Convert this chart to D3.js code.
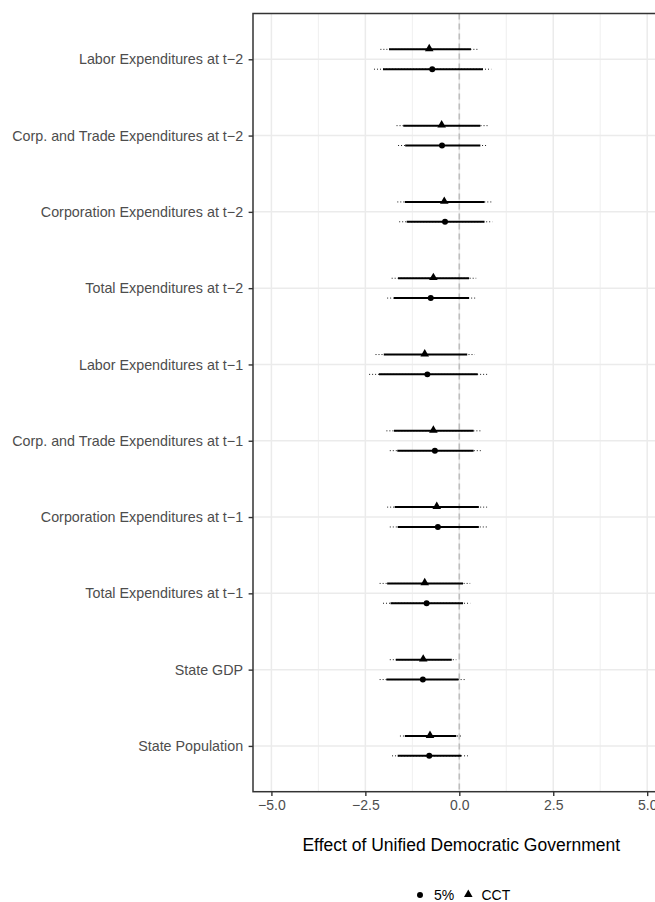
<!DOCTYPE html>
<html>
<head>
<meta charset="utf-8">
<script src="https://cdn.jsdelivr.net/npm/d3@7"></script>
<style>
  html, body { margin: 0; padding: 0; background: #fff; }
  svg { display: block; font-family: "Liberation Sans", Arial, sans-serif; }
</style>
</head>
<body>
<script>
// ---------- data ----------
const categories = [
  "Labor Expenditures at t\u22122",
  "Corp. and Trade Expenditures at t\u22122",
  "Corporation Expenditures at t\u22122",
  "Total Expenditures at t\u22122",
  "Labor Expenditures at t\u22121",
  "Corp. and Trade Expenditures at t\u22121",
  "Corporation Expenditures at t\u22121",
  "Total Expenditures at t\u22121",
  "State GDP",
  "State Population"
];
const seriesNames = ["5%", "CCT"];

// CCT (triangles)
const cctEst  = [-0.80, -0.47, -0.40, -0.69, -0.92, -0.69, -0.60, -0.92, -0.96, -0.78];
const cctLo90 = [-1.87, -1.49, -1.45, -1.63, -2.01, -1.74, -1.72, -1.92, -1.69, -1.45];
const cctHi90 = [ 0.31,  0.56,  0.67,  0.26,  0.21,  0.38,  0.52,  0.10, -0.20, -0.08];
const cctLo95 = [-2.10, -1.67, -1.65, -1.80, -2.23, -1.94, -1.92, -2.12, -1.85, -1.58];
const cctHi95 = [ 0.52,  0.76,  0.88,  0.45,  0.41,  0.58,  0.74,  0.29, -0.08,  0.05];

// 5% (circles)
const p5Est  = [-0.72, -0.46, -0.38, -0.76, -0.85, -0.65, -0.57, -0.87, -0.97, -0.80];
const p5Lo90 = [-2.03, -1.44, -1.40, -1.74, -2.14, -1.65, -1.64, -1.83, -1.94, -1.64];
const p5Hi90 = [ 0.63,  0.56,  0.67,  0.26,  0.49,  0.38,  0.52,  0.10, -0.02,  0.05];
const p5Lo95 = [-2.27, -1.63, -1.60, -1.92, -2.40, -1.85, -1.85, -2.03, -2.12, -1.79];
const p5Hi95 = [ 0.85,  0.76,  0.88,  0.45,  0.74,  0.58,  0.74,  0.29,  0.19,  0.23];

const xTicks = [-5, -2.5, 0, 2.5, 5];
const xMinorTicks = [-3.75, -1.25, 1.25, 3.75];
const xTitle = "Effect of Unified Democratic Government";

// ---------- layout ----------
const W = 655, H = 902;
const panel = { left: 253, top: 13.5, right: 665.6, bottom: 791.7 };

const svg = d3.select("body").append("svg")
  .attr("width", W).attr("height", H);

const x = d3.scaleLinear().domain([-5.49, 5.49]).range([panel.left, panel.right]);
const y = d3.scaleLinear().domain([0.4, categories.length + 0.6]).range([panel.bottom, panel.top]);
const catPos = (i) => categories.length - i;
const dodge = 0.13;

const rows = [];
categories.forEach((c, i) => {
  rows.push({ s: "CCT", pos: catPos(i) + dodge, est: cctEst[i], lo90: cctLo90[i], hi90: cctHi90[i], lo95: cctLo95[i], hi95: cctHi95[i] });
  rows.push({ s: "5%", pos: catPos(i) - dodge, est: p5Est[i], lo90: p5Lo90[i], hi90: p5Hi90[i], lo95: p5Lo95[i], hi95: p5Hi95[i] });
});

svg.append("rect").attr("x", panel.left).attr("y", panel.top)
  .attr("width", panel.right - panel.left).attr("height", panel.bottom - panel.top)
  .attr("fill", "#fff");

const grid = svg.append("g");
grid.selectAll("line.minor").data(xMinorTicks).join("line")
  .attr("x1", d => x(d)).attr("x2", d => x(d))
  .attr("y1", panel.top).attr("y2", panel.bottom)
  .attr("stroke", "#EBEBEB").attr("stroke-width", 0.8);
grid.selectAll("line.majx").data(xTicks).join("line")
  .attr("x1", d => x(d)).attr("x2", d => x(d))
  .attr("y1", panel.top).attr("y2", panel.bottom)
  .attr("stroke", "#EBEBEB").attr("stroke-width", 1.5);
grid.selectAll("line.majy").data(categories).join("line")
  .attr("x1", panel.left).attr("x2", panel.right)
  .attr("y1", (d, i) => y(catPos(i))).attr("y2", (d, i) => y(catPos(i)))
  .attr("stroke", "#EBEBEB").attr("stroke-width", 1.5);

svg.append("line")
  .attr("x1", x(0)).attr("x2", x(0))
  .attr("y1", panel.top).attr("y2", panel.bottom)
  .attr("stroke", "#BEBEBE").attr("stroke-width", 1.6)
  .attr("stroke-dasharray", "6,4");

const marks = svg.append("g");
marks.selectAll("line.ci95").data(rows).join("line")
  .attr("x1", d => x(d.lo95)).attr("x2", d => x(d.hi95))
  .attr("y1", d => y(d.pos)).attr("y2", d => y(d.pos))
  .attr("stroke", "#000").attr("stroke-width", 0.9)
  .attr("stroke-dasharray", "1,2");
marks.selectAll("line.ci90").data(rows).join("line")
  .attr("x1", d => x(d.lo90)).attr("x2", d => x(d.hi90))
  .attr("y1", d => y(d.pos)).attr("y2", d => y(d.pos))
  .attr("stroke", "#000").attr("stroke-width", 2);
const symCircle = d3.symbol().type(d3.symbolCircle).size(28);
const symTri = d3.symbol().type(d3.symbolTriangle).size(32);
marks.selectAll("path.pt").data(rows).join("path")
  .attr("transform", d => `translate(${x(d.est)},${y(d.pos) + (d.s === "CCT" ? -0.6 : 0)})`)
  .attr("d", d => d.s === "CCT" ? symTri() : symCircle())
  .attr("fill", "#000");

svg.append("rect").attr("x", panel.left).attr("y", panel.top)
  .attr("width", panel.right - panel.left).attr("height", panel.bottom - panel.top)
  .attr("fill", "none").attr("stroke", "#333333").attr("stroke-width", 1.5);

const fmt = d => (d < 0 ? "\u2212" : "") + Math.abs(d).toFixed(1);
const xAxis = d3.axisBottom(x).tickValues(xTicks).tickSize(4.4).tickPadding(4).tickFormat(fmt);
const gx = svg.append("g").attr("transform", `translate(0,${panel.bottom})`).call(xAxis);
gx.select(".domain").remove();
gx.selectAll(".tick line").attr("stroke", "#333333").attr("stroke-width", 1.4);
gx.selectAll(".tick text").attr("fill", "#4D4D4D").attr("font-size", 14)
  .attr("font-family", "'Liberation Sans', Arial, sans-serif");

const yAxis = d3.axisLeft(y).tickValues(categories.map((c, i) => catPos(i)))
  .tickSize(4.4).tickPadding(5.5)
  .tickFormat(v => categories[categories.length - v]);
const gy = svg.append("g").attr("transform", `translate(${panel.left},0)`).call(yAxis);
gy.select(".domain").remove();
gy.selectAll(".tick line").attr("stroke", "#333333").attr("stroke-width", 1.4);
gy.selectAll(".tick text").attr("fill", "#4D4D4D").attr("font-size", 14.3)
  .attr("font-family", "'Liberation Sans', Arial, sans-serif");

svg.append("text").attr("x", (panel.left + panel.right) / 2 + 2).attr("y", 845)
  .attr("text-anchor", "middle").attr("dominant-baseline", "central")
  .attr("font-size", 17.5).attr("fill", "#000").text(xTitle);

const legend = svg.append("g").attr("transform", "translate(0,895)");
const legendItems = [
  { name: seriesNames[0], sym: symCircle, kx: 420, tx: 434 },
  { name: seriesNames[1], sym: symTri, kx: 468.3, tx: 481.5 }
];
legend.selectAll("path").data(legendItems).join("path")
  .attr("transform", d => `translate(${d.kx},${d.name === "CCT" ? -0.6 : 0})`)
  .attr("d", d => d.sym()).attr("fill", "#000");
legend.selectAll("text").data(legendItems).join("text")
  .attr("x", d => d.tx).attr("y", 0).attr("dominant-baseline", "central")
  .attr("font-size", 14).attr("fill", "#000").text(d => d.name);
</script>
</body>
</html>
